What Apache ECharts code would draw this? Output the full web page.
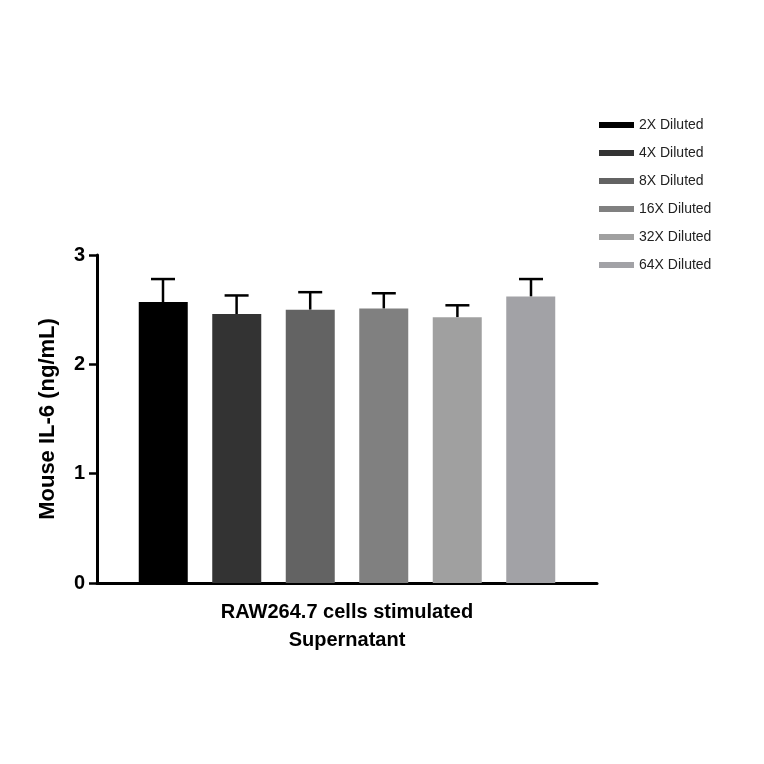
<!DOCTYPE html><html><head><meta charset="utf-8"><script src="https://cdn.jsdelivr.net/npm/echarts@6/dist/echarts.min.js"></script></head><body style="margin:0;background:#fff"><div id="c" style="width:764px;height:764px"></div><script>
const groups=['2X Diluted','4X Diluted','8X Diluted','16X Diluted','32X Diluted','64X Diluted'];
const means=[2.57,2.46,2.50,2.51,2.43,2.62];
const errTop=[2.78,2.63,2.66,2.65,2.54,2.78];
const colors=['#000000','#333333','#636363','#808080','#a0a0a0','#a2a2a6'];
const category=['RAW264.7 cells stimulated\nSupernatant'];
const chart=echarts.init(document.getElementById('c'));
const series=groups.map((g,i)=>({name:g,type:'bar',data:[means[i]],barWidth:49,barGap:'50%',itemStyle:{color:colors[i]}}));
series.push({type:'custom',name:'err',z:1,data:[[0]],renderItem:(p,api)=>{
  const ch=[];const base=api.coord([0,0]);const step=73.6;
  for(let i=0;i<6;i++){const x=base[0]+(i-2.5)*step;const y1=api.coord([0,means[i]])[1];const y2=api.coord([0,errTop[i]])[1];
    ch.push({type:'line',shape:{x1:x,y1:y1,x2:x,y2:y2},style:{stroke:'#000',lineWidth:2.5}});
    ch.push({type:'line',shape:{x1:x-12,y1:y2,x2:x+12,y2:y2},style:{stroke:'#000',lineWidth:2.5}});}
  return {type:'group',children:ch};}});
chart.setOption({animation:false,
legend:{data:groups,orient:'vertical',left:594,top:113,icon:'rect',itemWidth:35,itemHeight:6,itemGap:14,textStyle:{fontFamily:'Liberation Sans',fontSize:14,color:'#222'}},
grid:{left:97,right:167,top:255,bottom:181},
xAxis:{type:'category',data:category,axisLine:{lineStyle:{color:'#000',width:3}},axisTick:{alignWithLabel:true,length:8,lineStyle:{width:2.5,color:'#000'}},axisLabel:{color:'#000',fontWeight:'bold',fontSize:20,fontFamily:'Liberation Sans',margin:15,lineHeight:28}},
yAxis:{type:'value',min:0,max:3,interval:1,name:'Mouse IL-6 (ng/mL)',nameLocation:'middle',nameGap:38,nameTextStyle:{color:'#000',fontWeight:'bold',fontSize:22,fontFamily:'Liberation Sans'},axisLine:{show:true,lineStyle:{color:'#000',width:3}},axisTick:{show:true,length:8,lineStyle:{width:2.5,color:'#000'}},splitLine:{show:false},axisLabel:{color:'#000',fontWeight:'bold',fontSize:20,fontFamily:'Liberation Sans',margin:12}},
series});
</script></body></html>
